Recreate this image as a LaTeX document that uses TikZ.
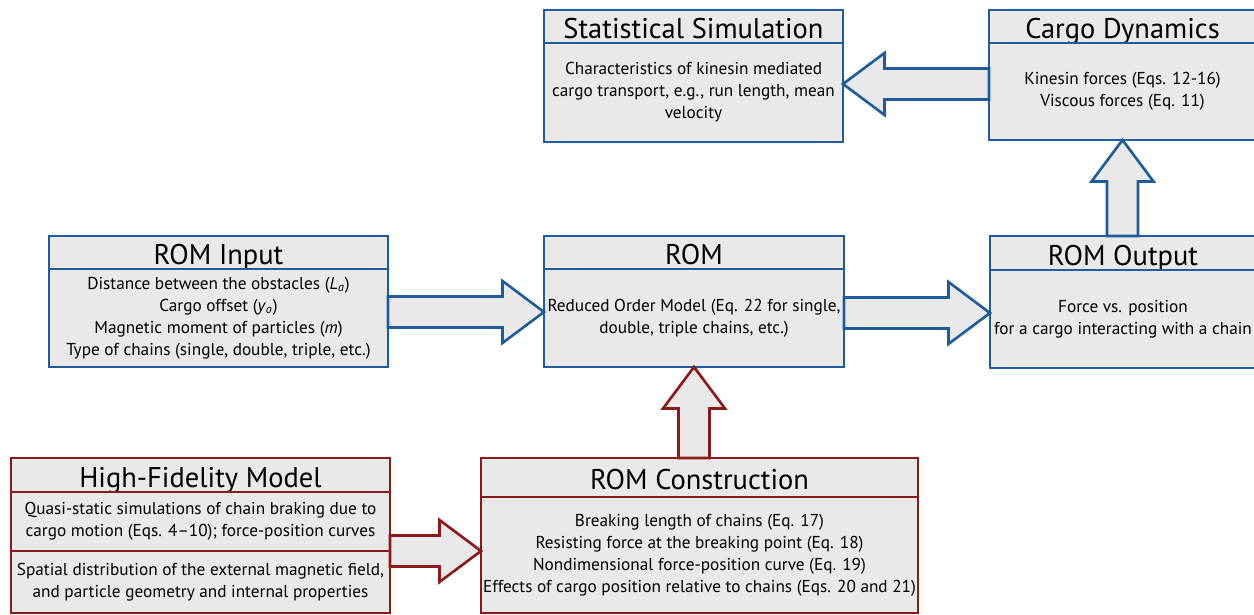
\documentclass[tikz,border=0pt]{standalone}
\usepackage{fontspec}
\setmainfont{PT Sans}
\usetikzlibrary{positioning,calc}
\definecolor{BoxBlue}{HTML}{1F5C99}
\definecolor{BoxRed}{HTML}{8B1A1A}
\definecolor{BoxFill}{HTML}{E9E9E9}

\begin{document}
\begin{tikzpicture}[
    blueT/.style={draw=BoxBlue, fill=BoxFill, line width=1.6pt, inner sep=0pt, outer sep=0pt,
                  text height=14pt, text depth=0pt, font=\fontsize{16.2}{19}\selectfont},
    blueB/.style={draw=BoxBlue, fill=BoxFill, line width=1.6pt, inner sep=0pt, outer sep=0pt,
                  align=center, font=\fontsize{9.8}{12.6}\selectfont},
    redT/.style={blueT, draw=BoxRed},
    redB/.style={blueB, draw=BoxRed},
    fat/.style={line width=1.5pt, fill=BoxFill, to path={
        let \p1=(\tikztostart), \p2=(\tikztotarget), \p3=($(\p2)!0.83cm!(\p1)$) in
        ($(\p1)!0.31cm!90:(\p2)$) -- ($(\p3)!0.31cm!-90:(\p1)$) -- ($(\p3)!0.62cm!-90:(\p1)$)
        -- (\p2) -- ($(\p3)!0.62cm!90:(\p1)$) -- ($(\p3)!0.31cm!90:(\p1)$)
        -- ($(\p1)!0.31cm!-90:(\p2)$) -- cycle}},
    fatB/.style={fat, draw=BoxBlue},
    fatR/.style={fat, draw=BoxRed},
  ]
    \useasboundingbox (0,0) rectangle (25.08,12.3);
    % Statistical simulation
    \node[blueT, minimum width=5.98cm, minimum height=0.66cm] (statT) at (13.87,11.77) {Statistical Simulation};
    \node[blueB, minimum width=5.98cm, minimum height=1.98cm, below=0pt of statT] (stat) {
      Characteristics of kinesin mediated\\
      cargo transport, e.g., run length, mean\\
      velocity};
    % Cargo dynamics
    \node[blueT, minimum width=5.34cm, minimum height=0.66cm] (cargoT) at (22.45,11.77) {Cargo Dynamics};
    \node[blueB, minimum width=5.34cm, minimum height=1.94cm, below=0pt of cargoT] (cargo) {
      Kinesin forces (Eqs. 12-16)\\
      Viscous forces (Eq. 11)};
    % ROM input
    \node[blueT, minimum width=6.78cm, minimum height=0.66cm] (inpT) at (4.37,7.25) {ROM Input};
    \node[blueB, minimum width=6.78cm, minimum height=1.96cm, below=0pt of inpT] (inp) {
      Distance between the obstacles (\textit{L}\textsubscript{\textit{a}})\\
      Cargo offset (\textit{y}\textsubscript{\textit{o}})\\
      Magnetic moment of particles (\textit{m})\\
      Type of chains (single, double, triple, etc.)};
    % ROM
    \node[blueT, minimum width=6cm, minimum height=0.66cm] (romT) at (13.88,7.25) {ROM};
    \node[blueB, minimum width=6cm, minimum height=1.96cm, below=0pt of romT] (rom) {
      Reduced Order Model (Eq. 22 for single,\\
      double, triple chains, etc.)};
    % ROM output
    \node[blueT, minimum width=5.32cm, minimum height=0.68cm] (outT) at (22.46,7.24) {ROM Output};
    \node[blueB, minimum width=5.32cm, minimum height=1.96cm, below=0pt of outT] (out) {
      Force vs. position\\
      for a cargo interacting with a chain};
    % High-fidelity model
    \node[redT, minimum width=7.58cm, minimum height=0.68cm] (hfmT) at (4.01,2.80) {High-Fidelity Model};
    \node[redB, minimum width=7.58cm, minimum height=1.18cm, below=0pt of hfmT] (hfmA) {
      Quasi-static simulations of chain braking due to\\
      cargo motion (Eqs. 4--10); force-position curves};
    \node[redB, minimum width=7.58cm, minimum height=1.24cm, below=0pt of hfmA] (hfmB) {
      Spatial distribution of the external magnetic field,\\
      and particle geometry and internal properties};
    % ROM construction
    \node[redT, minimum width=8.74cm, minimum height=0.78cm] (conT) at (13.99,2.75) {ROM Construction};
    \node[redB, minimum width=8.74cm, minimum height=2.32cm, below=0pt of conT] (con) {
      Breaking length of chains (Eq. 17)\\
      Resisting force at the breaking point (Eq. 18)\\
      Nondimensional force-position curve (Eq. 19)\\
      Effects of cargo position relative to chains (Eqs. 20 and 21)};
    % block arrows
    \coordinate (a1) at ($(cargo.west)+(0,0.15)$);
    \coordinate (b1) at ($(inp.east)+(0,0.12)$);
    \coordinate (c1) at ($(rom.east)+(0,0.1)$);
    \draw[fatB] (a1) to (a1 -| stat.east);
    \draw[fatB] (b1) to (b1 -| rom.west);
    \draw[fatB] (c1) to (c1 -| out.west);
    \draw[fatB] (cargo.south |- outT.north) to (cargo.south);
    \draw[fatR] (rom.south |- conT.north) to (rom.south);
    \draw[fatR] (hfmA.south east) to (hfmA.south east -| con.west);
  \end{tikzpicture}
\end{document}
